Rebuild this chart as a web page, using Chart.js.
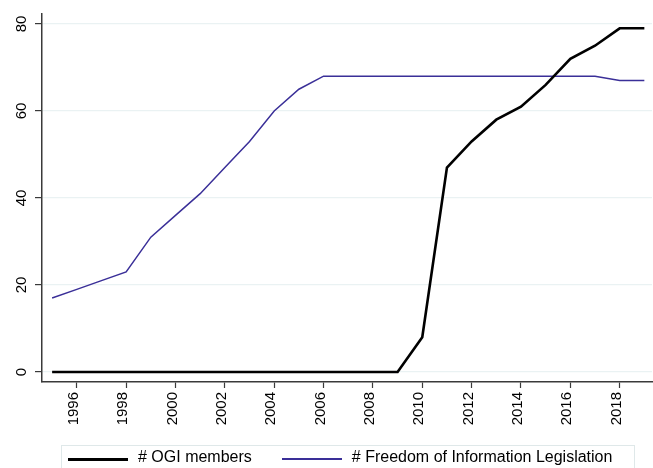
<!DOCTYPE html>
<html>
<head>
<meta charset="utf-8">
<title>OGI members and FOI legislation</title>
<script src="https://cdn.jsdelivr.net/npm/chart.js@4.4.1/dist/chart.umd.min.js"></script>
<style>
    body { margin: 0; background: #fff; overflow: hidden; }
    #wrap { position: relative; width: 653px; height: 468px; }
    #legend {
        position: absolute; left: 61px; top: 445px; width: 574px; height: 40px;
        box-sizing: border-box; border: 1px solid #dfe8e9;
        display: flex; padding: 2px 0 0 6px;
        font: 16px "Liberation Sans", Arial, sans-serif; color: #000;
    }
    .item { display: flex; align-items: center; height: 18px; line-height: 18px; margin-right: 30px; white-space: nowrap; }
    .swatch { width: 60px; margin-right: 10px; position: relative; top: 2px; }
</style>
</head>
<body>
<div id="wrap">
    <canvas id="chart" width="653" height="468"></canvas>
    <div id="legend"></div>
</div>
<script>
const years = [1995, 1996, 1997, 1998, 1999, 2000, 2001, 2002, 2003, 2004, 2005, 2006,
               2007, 2008, 2009, 2010, 2011, 2012, 2013, 2014, 2015, 2016, 2017, 2018, 2019];
const ogiMembers = [0, 0, 0, 0, 0, 0, 0, 0, 0, 0, 0, 0,
                    0, 0, 0, 8, 47, 53, 58, 61, 66, 72, 75, 79, 79];
const foiLaws = [17, 19, 21, 23, 31, 36, 41, 47, 53, 60, 65, 68,
                 68, 68, 68, 68, 68, 68, 68, 68, 68, 68, 68, 67, 67];
const seriesNames = ['# OGI members', '# Freedom of Information Legislation'];
const xTicks = [1996, 1998, 2000, 2002, 2004, 2006, 2008, 2010, 2012, 2014, 2016, 2018];
const yTicks = [0, 20, 40, 60, 80];

const FONT = '"Liberation Sans", Arial, sans-serif';
const GRID = '#eaf2f3';
const AXIS = '#3a3a3a';

function toPoints(values) {
    return years.map((yr, i) => ({ x: yr, y: values[i] }));
}

const chart = new Chart(document.getElementById('chart').getContext('2d'), {
    type: 'line',
    data: {
        datasets: [
            {
                label: seriesNames[0],
                data: toPoints(ogiMembers),
                borderColor: '#000000',
                borderWidth: 2.6,
                pointRadius: 0,
                tension: 0
            },
            {
                label: seriesNames[1],
                data: toPoints(foiLaws),
                borderColor: '#3a2f98',
                borderWidth: 1.5,
                pointRadius: 0,
                tension: 0
            }
        ]
    },
    options: {
        responsive: false,
        animation: false,
        layout: { padding: { top: 12, right: 1, bottom: 36, left: 0 } },
        plugins: {
            legend: { display: false },
            tooltip: { enabled: false }
        },
        scales: {
            x: {
                type: 'linear',
                min: 1994.59,
                max: 2019.31,
                afterBuildTicks: s => { s.ticks = xTicks.map(v => ({ value: v })); },
                afterFit: s => { s.height = 50; },
                grid: { display: true, drawOnChartArea: false, tickLength: 6, tickColor: AXIS, tickWidth: 1.2 },
                border: { display: true, color: AXIS, width: 1.5 },
                ticks: {
                    minRotation: 90,
                    maxRotation: 90,
                    padding: 4,
                    labelOffset: -3,
                    color: '#000',
                    font: { family: FONT, size: 15 },
                    callback: v => String(v)
                }
            },
            y: {
                min: -2.29,
                max: 82.29,
                afterBuildTicks: s => { s.ticks = yTicks.map(v => ({ value: v })); },
                afterFit: s => { s.width = 42; },
                grid: { color: GRID, lineWidth: 1.2, tickLength: 7, tickColor: AXIS, tickWidth: 1.2 },
                border: { display: true, color: AXIS, width: 1.5 },
                ticks: {
                    minRotation: 90,
                    maxRotation: 90,
                    crossAlign: 'center',
                    padding: 5,
                    color: '#000',
                    font: { family: FONT, size: 15 }
                }
            }
        }
    }
});

// legend row built from the dataset labels and colours
const legendEl = document.getElementById('legend');
chart.data.datasets.forEach(ds => {
    const item = document.createElement('div');
    item.className = 'item';
    const swatch = document.createElement('span');
    swatch.className = 'swatch';
    swatch.style.height = Math.max(Math.round(ds.borderWidth), 2) + 'px';
    swatch.style.background = ds.borderColor;
    const text = document.createElement('span');
    text.textContent = ds.label;
    item.appendChild(swatch);
    item.appendChild(text);
    legendEl.appendChild(item);
});
</script>
</body>
</html>
